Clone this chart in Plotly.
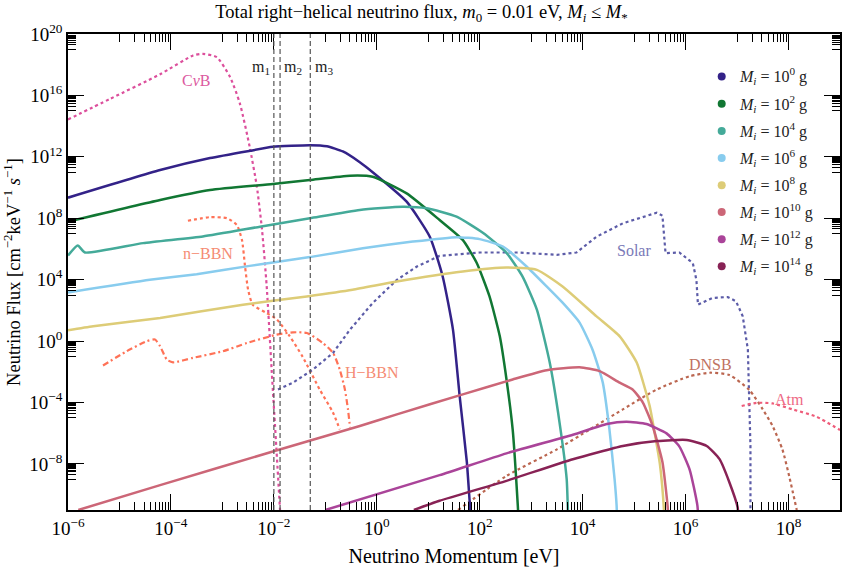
import plotly.graph_objects as go

# ---------------- data (log10 of momentum [eV] and log10 of flux) ----------------
LOGP_M0 = [-6, -4.21, -3.24, -2.47, -2.02, -1.30, -0.97, -0.66, -0.33, -0.08, 0.58, 1.03, 1.28, 1.48, 1.61, 1.75, 1.81, 1.84]
LOGF_M0 = [9.34, 11.14, 11.92, 12.39, 12.65, 12.76, 12.69, 12.35, 11.65, 11.0, 9.08, 6.80, 4.21, 0.75, -3.58, -7.89, -10.73, -12]

LOGP_M2 = [-6, -4.21, -3.24, -2.02, -1.30, -0.52, -0.08, 0.58, 1.22, 1.67, 1.94, 2.19, 2.39, 2.52, 2.64, 2.74, 2.76]
LOGF_M2 = [7.78, 9.19, 9.84, 10.23, 10.49, 10.77, 10.70, 9.62, 7.89, 6.59, 5.10, 2.91, 0.31, -2.50, -5.75, -10.73, -12]

LOGP_M4 = [-6, -5.81, -5.67, -4.54, -3.38, -2.27, -1.30, -0.33, 0.50, 0.97, 1.55, 2.06, 2.52, 2.83, 3.11, 3.36, 3.55, 3.69, 3.71, 3.72]
LOGF_M4 = [5.57, 6.22, 5.77, 6.38, 6.81, 7.45, 8.00, 8.54, 8.75, 8.65, 8.10, 7.05, 5.75, 4.21, 2.05, -1.40, -5.29, -9.0, -10.73, -12]

LOGP_M6 = [-6, -4.41, -3.50, -2.47, -1.30, -0.27, 0.70, 1.55, 2.00, 2.45, 2.91, 3.30, 3.61, 3.94, 4.19, 4.39, 4.52, 4.62, 4.66, 4.67]
LOGF_M6 = [3.17, 3.99, 4.36, 4.90, 5.47, 6.05, 6.48, 6.77, 6.64, 6.16, 4.86, 3.56, 2.50, 1.20, -0.55, -2.69, -5.75, -8.99, -10.73, -12]

LOGP_M8 = [-6, -5.51, -4.21, -2.60, -1.36, -0.47, 0.39, 1.67, 2.52, 3.11, 3.61, 4.27, 4.72, 5.05, 5.30, 5.40, 5.50, 5.58, 5.59]
LOGF_M8 = [0.70, 0.96, 1.51, 2.37, 2.91, 3.34, 3.88, 4.53, 4.79, 4.64, 3.56, 1.61, 0.31, -1.40, -4.2, -6.0, -8.0, -11.0, -12]

LOGP_M10 = [-5.80, -4.21, -2.02, -0.33, 0.39, 1.67, 2.64, 3.30, 3.94, 4.33, 4.72, 4.97, 5.17, 5.36, 5.55, 5.65, 5.67]
LOGF_M10 = [-11.0, -9.38, -7.19, -5.53, -4.77, -3.47, -2.50, -1.90, -1.70, -1.96, -2.71, -3.15, -4.0, -5.53, -7.88, -10.73, -12]

LOGP_M12 = [-1.0, 1.22, 2.52, 3.81, 4.47, 4.85, 5.24, 5.63, 5.88, 6.08, 6.23, 6.25]
LOGF_M12 = [-11.0, -8.73, -7.31, -6.10, -5.40, -5.25, -5.40, -6.01, -6.87, -8.38, -10.73, -12]

LOGP_M14 = [0.72, 1.22, 2.52, 3.81, 4.78, 5.44, 6.02, 6.41, 6.66, 6.85, 7.01, 7.03]
LOGF_M14 = [-11.0, -10.40, -9.10, -7.69, -6.83, -6.51, -6.44, -6.83, -7.69, -9.19, -10.81, -12]

LOGP_CNUB = [-6, -5.18, -4.21, -3.57, -3.38, -3.11, -2.85, -2.66, -2.47, -2.33, -2.23, -2.14, -2.04, -1.96, -1.88]
LOGF_CNUB = [14.43, 15.78, 17.38, 18.60, 18.71, 18.49, 17.19, 15.47, 12.65, 10.05, 7.24, 3.6, -2.05, -6.5, -11]

LOGP_NBBN = [-3.67, -3.24, -2.91, -2.72, -2.62, -2.56, -2.50, -2.41, -2.14, -1.94, -1.69, -1.44, -1.11, -0.85, -0.72]
LOGF_NBBN = [7.84, 8.07, 8.00, 7.56, 6.59, 4.86, 3.34, 2.37, 1.83, 1.40, 0.31, -1.03, -3.15, -4.66, -5.75]

LOGP_HBBN = [-5.32, -4.86, -4.47, -4.31, -4.21, -4.08, -3.96, -3.57, -2.99, -2.52, -1.94, -1.63, -1.36, -1.05, -0.85, -0.72, -0.62, -0.56, -0.52]
LOGF_HBBN = [-1.59, -0.66, -0.01, 0.10, -0.34, -1.20, -1.38, -1.09, -0.66, -0.12, 0.42, 0.57, 0.53, -0.12, -0.77, -1.85, -3.15, -4.45, -5.62]

LOGP_SOLAR = [-1.92, -1.63, -1.24, -0.85, -0.52, -0.08, 0.39, 0.78, 1.22, 2.00, 2.72, 3.50, 3.88, 4.27, 4.78, 5.44, 5.55, 5.61, 5.88, 6.14, 6.21, 6.24, 6.52, 6.82, 6.98, 7.11, 7.21, 7.24, 7.26, 7.26]
LOGF_SOLAR = [-3.15, -2.71, -1.85, -0.77, 0.75, 2.48, 3.99, 4.86, 5.55, 5.77, 5.77, 5.62, 5.77, 6.80, 7.67, 8.36, 8.17, 5.73, 5.77, 5.08, 3.99, 2.37, 2.81, 2.87, 2.59, 1.62, -0.55, -3.62, -6.87, -11.0]

LOGP_DNSB = [1.58, 2.52, 3.50, 4.14, 4.78, 5.44, 6.08, 6.47, 6.85, 7.24, 7.50, 7.69, 7.88, 8.02, 8.16]
LOGF_DNSB = [-11.0, -8.78, -7.05, -5.75, -4.45, -3.15, -2.29, -2.06, -2.21, -3.19, -4.45, -5.53, -7.05, -8.9, -11.0]

LOGP_ATM = [7.09, 7.38, 7.69, 8.08, 8.54, 9.0]
LOGF_ATM = [-4.23, -4.02, -4.06, -4.45, -4.92, -5.79]

NU_MASSES = [0.01, 0.0132, 0.051]          # m1, m2, m3 [eV]
MASS_LABELS = ["m<sub>1</sub>", "m<sub>2</sub>", "m<sub>3</sub>"]

PBH_EXPONENTS = [0, 2, 4, 6, 8, 10, 12, 14]
PBH_COLORS = ["#332288", "#117733", "#44AA99", "#88CCEE", "#DDCC77", "#CC6677", "#AA4499", "#882255"]

X_MAJOR_EXP = [-6, -4, -2, 0, 2, 4, 6, 8]
Y_MAJOR_EXP = [-8, -4, 0, 4, 8, 12, 16, 20]

# ---------------- figure ----------------
FONT = "Liberation Serif"
W, H = 843, 567
L, R, T, B = 68, 3, 33.5, 57
PW, PH = W - L - R, H - T - B


def pw(v):
    return [10 ** e for e in v]


def px_x(p):
    return (p - L) / PW


def px_y(p):
    return (H - B - p) / PH


fig = go.Figure()

pbh_series = [
    (LOGP_M0, LOGF_M0), (LOGP_M2, LOGF_M2), (LOGP_M4, LOGF_M4), (LOGP_M6, LOGF_M6),
    (LOGP_M8, LOGF_M8), (LOGP_M10, LOGF_M10), (LOGP_M12, LOGF_M12), (LOGP_M14, LOGF_M14),
]

# background fluxes
bg = [
    (LOGP_CNUB, LOGF_CNUB, "#dc4f9c", "dot", "spline"),
    (LOGP_NBBN, LOGF_NBBN, "#ff7257", "dot", "spline"),
    (LOGP_HBBN, LOGF_HBBN, "#ff7257", "6px,3px,2px,3px", "spline"),
    (LOGP_SOLAR, LOGF_SOLAR, "#5c5ca8", "dot", "linear"),
    (LOGP_DNSB, LOGF_DNSB, "#bb6650", "dot", "spline"),
    (LOGP_ATM, LOGF_ATM, "#ee5c7a", "dot", "spline"),
]
for lp, lf, col, dash, shape in bg:
    fig.add_trace(go.Scatter(x=pw(lp), y=pw(lf), mode="lines",
                             line=dict(color=col, width=2.2, dash=dash, shape=shape, smoothing=0.6),
                             showlegend=False, hoverinfo="skip"))

for (lp, lf), col in zip(pbh_series, PBH_COLORS):
    fig.add_trace(go.Scatter(x=pw(lp), y=pw(lf), mode="lines",
                             line=dict(color=col, width=2.5, shape="spline", smoothing=0.5),
                             showlegend=False, hoverinfo="skip"))

# neutrino mass lines
for m in NU_MASSES:
    fig.add_shape(type="line", xref="x", yref="paper", x0=m, x1=m, y0=0, y1=1,
                  line=dict(color="#555555", width=1.2, dash="5px,3px"))

annotations = []
mass_label_px = [261, 293, 324]
for lab, xp in zip(MASS_LABELS, mass_label_px):
    annotations.append(dict(x=px_x(xp), y=px_y(67), xref="paper", yref="paper",
                            text=lab, showarrow=False, xanchor="center", yanchor="middle",
                            font=dict(family=FONT, size=16, color="#222222")))

# curve labels
curve_labels = [
    ("C<i>ν</i>B", 196, 80, "#dc5aa0"),
    ("n−BBN", 208, 253, "#f58c74"),
    ("H−BBN", 372, 372, "#f58c74"),
    ("Solar", 634, 250, "#7a7ab8"),
    ("DNSB", 710, 364, "#c07262"),
    ("Atm", 789, 399, "#ee6a85"),
]
for txt, x, y, col in curve_labels:
    annotations.append(dict(x=px_x(x), y=px_y(y), xref="paper", yref="paper", text=txt,
                            xanchor="center", yanchor="middle",
                            showarrow=False, font=dict(family=FONT, size=16, color=col)))

# manual legend
leg_rows = [76, 103.3, 130.7, 157.7, 185, 211.7, 239, 266]
for e, col, ry in zip(PBH_EXPONENTS, PBH_COLORS, leg_rows):
    fig.add_shape(type="circle", xref="paper", yref="paper", xsizemode="pixel", ysizemode="pixel",
                  xanchor=px_x(721.7), yanchor=px_y(ry), x0=-4, x1=4, y0=-4, y1=4,
                  fillcolor=col, line=dict(width=0))
    annotations.append(dict(x=px_x(737), y=px_y(ry), xref="paper", yref="paper",
                            xanchor="left", yanchor="middle",
                            text=f"<i>M<sub>i</sub></i> = 10<sup>{e}</sup> g", showarrow=False,
                            font=dict(family=FONT, size=16, color="#222222")))


def sup(e):
    return f"10<sup>{'−' if e < 0 else ''}{abs(e)}</sup>"


x_minor = [k * 10.0 ** (e - 1) for e in X_MAJOR_EXP for k in range(1, 10)]
y_minor = [k * 10.0 ** (e - 1) for e in Y_MAJOR_EXP for k in range(1, 10)]

axis_common = dict(type="log", showgrid=False, zeroline=False, showline=True, linecolor="black",
                   linewidth=1.5, mirror="allticks", ticks="inside", ticklen=16, tickwidth=1.2,
                   tickcolor="black", tickfont=dict(family=FONT, size=19, color="black"))

fig.update_xaxes(**axis_common, range=[-6, 9],
                 tickmode="array", tickvals=[10.0 ** e for e in X_MAJOR_EXP],
                 ticktext=[sup(e) for e in X_MAJOR_EXP],
                 minor=dict(tickmode="array", tickvals=x_minor, ticks="inside", ticklen=8,
                            tickwidth=1.1, tickcolor="black"),
                 title=dict(text="Neutrino Momentum [eV]", font=dict(family=FONT, size=20), standoff=11))
fig.update_yaxes(**axis_common, range=[-11, 20],
                 tickmode="array", tickvals=[10.0 ** e for e in Y_MAJOR_EXP],
                 ticktext=[sup(e) for e in Y_MAJOR_EXP],
                 minor=dict(tickmode="array", tickvals=y_minor, ticks="inside", ticklen=8,
                            tickwidth=1.1, tickcolor="black"),
                 title=dict(text="Neutrino Flux [cm<sup>−2</sup>keV<sup>−1</sup> <i>s</i><sup>−1</sup>]",
                            font=dict(family=FONT, size=18.5), standoff=6))

fig.update_layout(
    width=W, height=H, margin=dict(l=L, r=R, t=T, b=B, autoexpand=False),
    plot_bgcolor="white", paper_bgcolor="white", showlegend=False,
    font=dict(family=FONT, color="black"),
    title=dict(text="Total right−helical neutrino flux, <i>m</i><sub>0</sub> = 0.01 eV, <i>M<sub>i</sub></i> ≤ <i>M</i><sub>*</sub>",
               x=px_x(454), xanchor="center", y=1 - 12 / H, yanchor="middle",
               font=dict(family=FONT, size=18.5, color="black")),
    annotations=annotations,
)

fig.write_html("out.html", config={"displayModeBar": False},
               post_script="document.body.style.margin='0';document.body.style.overflow='hidden';")
